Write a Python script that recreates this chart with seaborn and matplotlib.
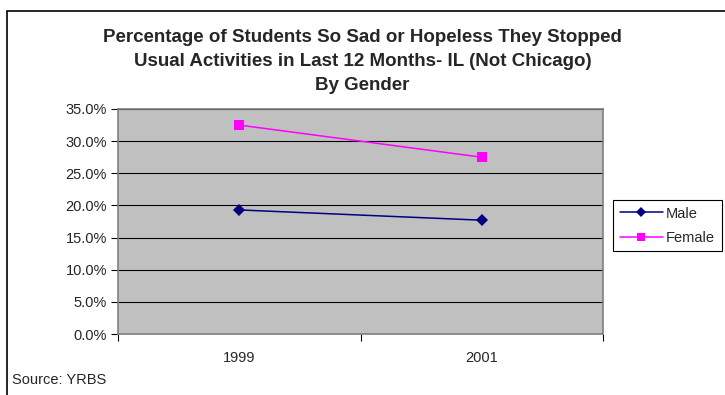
import pandas as pd
import matplotlib
matplotlib.use('Agg')
from matplotlib import pyplot as plt
from matplotlib.patches import Rectangle
import seaborn as sns

years = ['1999', '2001']
male = [19.3, 17.7]
female = [32.5, 27.5]
y_ticks = [0, 5, 10, 15, 20, 25, 30, 35]

df = pd.DataFrame({
    'pos': [0, 1, 0, 1],
    'value': male + female,
    'gender': ['Male'] * 2 + ['Female'] * 2,
})

sns.set_style('white')
plt.rcParams['font.family'] = ['Liberation Sans', 'DejaVu Sans']

fig = plt.figure(figsize=(7.25, 3.95), dpi=100)
ax = fig.add_axes([118 / 725, 1 - 334 / 395, (603 - 118) / 725, (334 - 109) / 395])

# outer chart frame
fig.patches.append(Rectangle((7 / 725, -0.1), 1.2, 1 - 11 / 395 + 0.1, transform=fig.transFigure,
                             fill=False, edgecolor='black', linewidth=1.2))

ax.set_facecolor('#C0C0C0')
sns.lineplot(data=df, x='pos', y='value', hue='gender', style='gender',
             palette={'Male': '#000080', 'Female': '#FF00FF'},
             markers={'Male': 'D', 'Female': 's'}, dashes=False,
             markersize=6.5, markeredgewidth=0, linewidth=1.1, ax=ax)

ax.set_xlim(-0.5, 1.5)
ax.set_ylim(0, 35)
ax.set_yticks(y_ticks)
ax.set_yticklabels([f'{t:.1f}%' for t in y_ticks], fontsize=10.5)
ax.set_xticks([-0.5, 0.5, 1.5])
ax.set_xticklabels([])
ax.set_xticks([0, 1], minor=True)
ax.set_xticklabels(years, minor=True, fontsize=10.5)
ax.tick_params(axis='x', which='minor', length=0, pad=12)
ax.tick_params(axis='x', which='major', length=5, width=0.8, color='black', direction='out', bottom=True)
ax.tick_params(axis='y', length=5, width=0.8, color='black', direction='out', left=True, pad=3)
ax.yaxis.grid(True, color='black', linewidth=0.8)
ax.set_axisbelow(True)
for side in ['top', 'right', 'left', 'bottom']:
    ax.spines[side].set_color('#808080')
    ax.spines[side].set_linewidth(1.2)
ax.set_xlabel('')
ax.set_ylabel('')

handles, labels = ax.get_legend_handles_labels()
for h in handles:
    h.set_markersize(5.5)
ax.legend(handles, labels, loc='upper left', bbox_to_anchor=(613 / 725, 1 - 200 / 395),
          bbox_transform=fig.transFigure, frameon=True, fancybox=False, edgecolor='black',
          framealpha=1, fontsize=10.5, handlelength=3.0, borderpad=0.45, labelspacing=0.7,
          handletextpad=0.2, borderaxespad=0)
ax.get_legend().get_frame().set_linewidth(0.8)

fig.text(0.5, 1 - 38 / 395, 'Percentage of Students So Sad or Hopeless They Stopped',
         ha='center', va='center', fontsize=13.5, fontweight='bold')
fig.text(0.5, 1 - 62 / 395, 'Usual Activities in Last 12 Months- IL (Not Chicago)',
         ha='center', va='center', fontsize=13.5, fontweight='bold')
fig.text(0.5, 1 - 86 / 395, 'By Gender',
         ha='center', va='center', fontsize=13.5, fontweight='bold')
fig.text(12 / 725, 1 - 380 / 395, 'Source: YRBS', ha='left', va='center', fontsize=10.5)

fig.savefig('out.png', dpi=100)
